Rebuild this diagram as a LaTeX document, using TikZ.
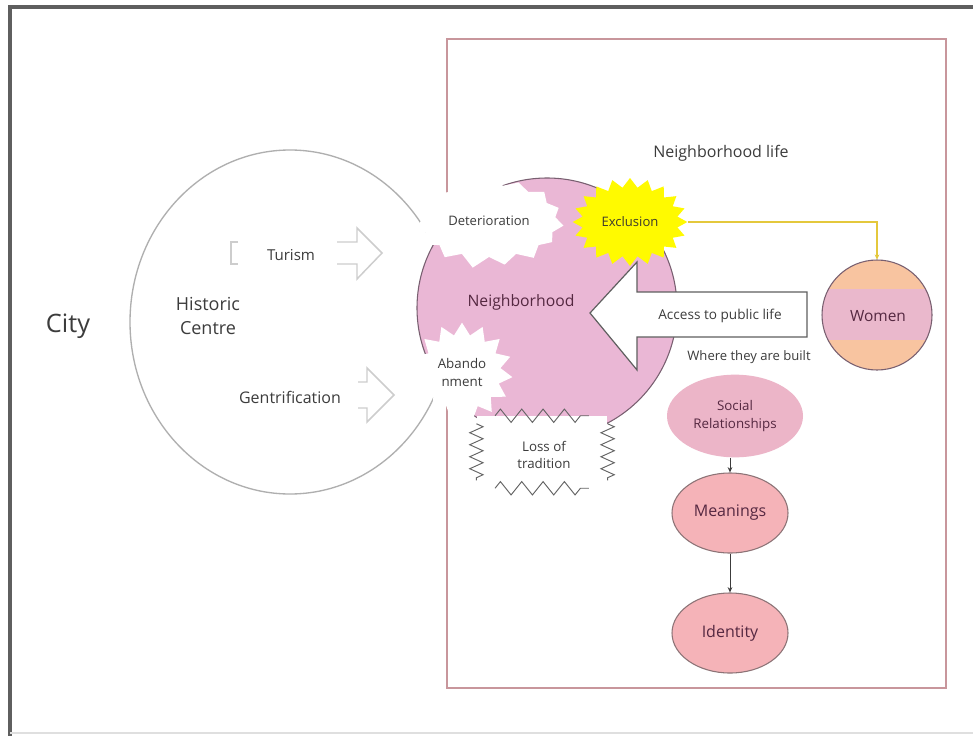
\documentclass[tikz,border=0pt]{standalone}
\usepackage{fontspec}
\setmainfont{Open Sans}
\usetikzlibrary{shapes.symbols,shapes.geometric,decorations.pathmorphing,arrows.meta}

\definecolor{framegray}{RGB}{95,95,95}
\definecolor{rosebox}{RGB}{200,150,156}
\definecolor{histgray}{RGB}{175,175,175}
\definecolor{nbpink}{RGB}{234,183,213}
\definecolor{nbline}{RGB}{120,95,112}
\definecolor{txtgray}{RGB}{60,60,60}
\definecolor{plum}{RGB}{85,40,65}
\definecolor{excl}{RGB}{255,250,0}
\definecolor{gold}{RGB}{228,200,60}
\definecolor{peach}{RGB}{248,196,160}
\definecolor{band}{RGB}{234,184,204}
\definecolor{socpink}{RGB}{236,181,200}
\definecolor{salmon}{RGB}{245,179,184}
\definecolor{ovline}{RGB}{140,115,118}
\definecolor{ghost}{RGB}{205,205,205}

\begin{document}
\begin{tikzpicture}[x=0.75pt,y=-0.75pt,
  lbl/.style={inner sep=0pt, text=txtgray, align=center},
  burst/.style={starburst, inner sep=0pt, draw=none, align=center, text=txtgray},
  oval/.style={ellipse, inner sep=0pt, align=center, text=plum},
  flow/.style={-{Stealth[length=4pt,width=3.5pt]}, draw=txtgray, line width=0.6pt},
  hollow/.style={ghost, line width=1.1pt, line join=miter},
  zig/.style={txtgray!80, line width=0.7pt, decorate}]

\useasboundingbox (0,0) rectangle (973,735);
\fill[white] (0,0) rectangle (973,735);

% page frame
\draw[framegray, line width=2.6pt] (10,740) -- (10,7) -- (990,7);
\draw[gray!25, line width=0.8pt] (10,733) -- (990,733);

% neighborhood-life panel
\draw[rosebox, line width=1.4pt] (447,39) rectangle (946,688);

% historic centre
\node[ellipse, draw=histgray, line width=1pt, minimum width=240pt, minimum height=258pt, inner sep=0pt] (hc) at (290,322) {};
\node[lbl, font=\fontsize{19}{22}\selectfont] (city) at (68,326) {City};
\node[lbl, font=\fontsize{13.5}{18.5}\selectfont] (hist) at (208,316) {Historic\\Centre};

% pressures on the centre
\node[lbl, font=\fontsize{11.3}{14}\selectfont] (tur) at (291,255) {Turism};
\node[lbl, font=\fontsize{12}{14}\selectfont] (gen) at (290,397) {Gentrification};
\draw[hollow] (238,242) -- (231,242) -- (231,264) -- (238,264);
\draw[hollow] (337,242) -- (357,242) -- (357,228) -- (382,253) -- (357,279) -- (357,264) -- (337,264);
\draw[hollow] (358,382) -- (367,382) -- (367,368) -- (394,395) -- (367,422) -- (367,408) -- (358,408);

% neighborhood
\node[circle, fill=nbpink, draw=nbline, line width=0.8pt, minimum size=195pt, inner sep=0pt] (nbh) at (547,308) {};

\node[burst, fill=white, starburst points=15, starburst point height=9pt, random starburst=7,
      minimum width=118pt, minimum height=72pt, font=\fontsize{9.8}{12}\selectfont] (det) at (489,221) {Deterioration};
\node[burst, fill=white, starburst points=15, starburst point height=9pt, random starburst=0,
      minimum width=76pt, minimum height=74pt, font=\fontsize{10}{13.5}\selectfont] (aban) at (462,372) {Abando\\nment};

% loss of tradition: zigzag-edged box
\node[rectangle, fill=white, minimum width=98pt, minimum height=54pt, inner sep=0pt] (loss) at (542,452) {};
\draw[zig, decoration={zigzag, segment length=16pt, amplitude=5pt}]
  ([xshift=14pt]loss.north west) -- ([xshift=-14pt]loss.north east);
\draw[zig, decoration={zigzag, segment length=16pt, amplitude=5pt}]
  ([xshift=14pt]loss.south west) -- ([xshift=-14pt]loss.south east);
\draw[zig, decoration={zigzag, segment length=9pt, amplitude=5pt}]
  ([yshift=-6pt]loss.north west) -- ([yshift=6pt]loss.south west);
\draw[zig, decoration={zigzag, segment length=9pt, amplitude=5pt}]
  ([yshift=-6pt]loss.north east) -- ([yshift=6pt]loss.south east);
\node[lbl, font=\fontsize{10}{12.2}\selectfont] (losst) at (544,455) {Loss of\\tradition};

% access arrow
\draw[fill=white, draw=framegray, line width=0.9pt, line join=miter]
  (590,313) -- (637,262) -- (637,292) -- (807,292) -- (807,337) -- (637,337) -- (637,370) -- cycle;
\node[lbl, font=\fontsize{10.2}{12}\selectfont] (acc) at (720,316) {Access to public life};

\node[lbl, text=plum, font=\fontsize{11.8}{14}\selectfont] (nbt) at (521,302) {Neighborhood};

\node[burst, fill=excl, starburst points=20, starburst point height=7pt, random starburst=0,
      minimum width=86pt, minimum height=66pt, text=black!75!olive, font=\fontsize{9.8}{12}\selectfont] (exc) at (630,222) {Exclusion};

\node[lbl, font=\fontsize{12}{14}\selectfont] (life) at (721,153) {Neighborhood life};
\node[lbl, font=\fontsize{9.8}{12}\selectfont] (built) at (749,357) {Where they are built};

% women
\node[circle, minimum size=82.5pt, inner sep=0pt] (wom) at (877,315) {};
\begin{scope}
  \clip (877,315) circle [radius=55];
  \fill[peach] (820,258) rectangle (935,372);
  \fill[band] (820,289) rectangle (935,340);
\end{scope}
\draw[nbline, line width=0.8pt] (877,315) circle [radius=55];
\node[lbl, text=plum, font=\fontsize{11.6}{14}\selectfont] (womt) at (878,316) {Women};

\draw[gold, line width=0.8pt, -{Stealth[length=4pt,width=3.5pt]}] (exc.east) -| (wom.north);

% chain of meaning
\node[oval, fill=socpink, minimum width=102pt, minimum height=62pt, font=\fontsize{10}{13.5}\selectfont] (soc) at (735,416) {Social\\Relationships};
\node[oval, fill=salmon, draw=ovline, line width=0.8pt, minimum width=87pt, minimum height=60pt, font=\fontsize{12}{14}\selectfont] (mea) at (730,513) {Meanings};
\node[oval, fill=salmon, draw=ovline, line width=0.8pt, minimum width=87pt, minimum height=60pt, font=\fontsize{12}{14}\selectfont] (ide) at (730,633) {Identity};

\draw[flow] (soc.south -| mea.north) -- (mea.north);
\draw[flow] (mea.south) -- (ide.north);

\end{tikzpicture}
\end{document}
